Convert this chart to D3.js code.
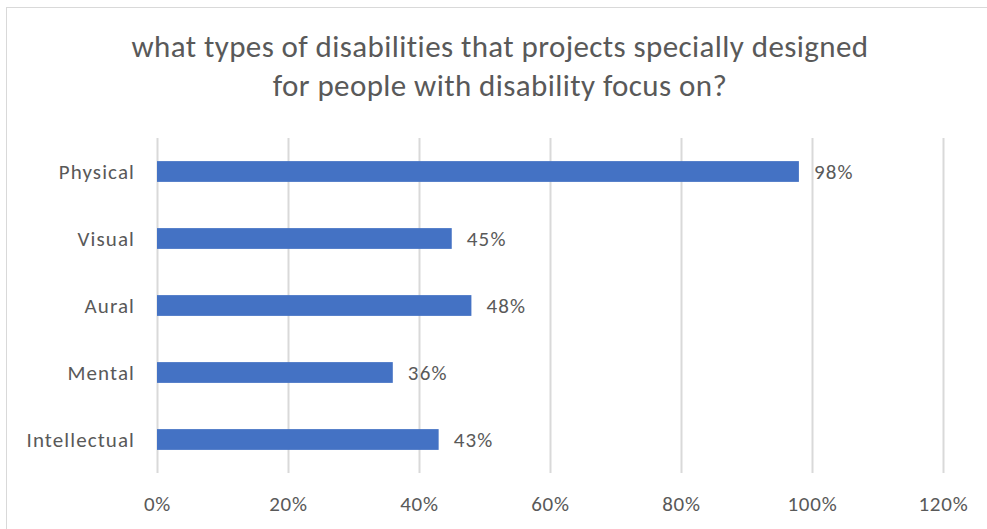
<!DOCTYPE html>
<html>
<head>
<meta charset="utf-8">
<script src="https://cdn.jsdelivr.net/npm/d3@7"></script>
<style>
  html, body { margin: 0; padding: 0; background: #fff; }
  svg { display: block; }
  text { font-family: Carlito, Lato, "Open Sans", sans-serif; fill: #595959; }
</style>
</head>
<body>
<svg id="chart" width="987" height="529"></svg>
<script>
// Survey result: share of projects focusing on each disability type
const categories = ["Physical", "Visual", "Aural", "Mental", "Intellectual"];
const values = [98, 45, 48, 36, 43];
const tickValues = [0, 20, 40, 60, 80, 100, 120];
const titleLines = [
  "what types of disabilities that projects specially designed",
  "for people with disability focus on?"
];

const width = 987, height = 529;
const plot = { left: 157, right: 943, top: 138, bottom: 473 };
const labelFont = "Carlito, Lato, 'Open Sans', sans-serif";

const svg = d3.select("#chart");

// chart area frame
svg.append("rect")
  .attr("x", 6.5).attr("y", 7.5)
  .attr("width", width + 10).attr("height", height + 10)
  .attr("fill", "#fff")
  .attr("stroke", "#d9d9d9").attr("stroke-width", 1);

const x = d3.scaleLinear().domain([0, 120]).range([plot.left, plot.right]);
const y = d3.scaleBand().domain(categories).range([plot.top, plot.bottom]).paddingInner(0.69).paddingOuter(0.345);

// vertical gridlines
svg.append("g")
  .selectAll("line")
  .data(tickValues)
  .join("line")
  .attr("x1", d => Math.round(x(d)) + 0.5)
  .attr("x2", d => Math.round(x(d)) + 0.5)
  .attr("y1", plot.top).attr("y2", plot.bottom)
  .attr("stroke", "#d9d9d9").attr("stroke-width", 2);

// x axis tick labels
const xAxis = d3.axisBottom(x).tickValues(tickValues).tickFormat(d => d + "%").tickSize(0).tickPadding(0);
const gx = svg.append("g").attr("transform", `translate(0, ${plot.bottom + 31})`).call(xAxis);
gx.select(".domain").remove();
gx.selectAll("text").attr("font-size", 21).attr("dy", "0.35em").attr("fill", "#595959")
  .attr("letter-spacing", 0.8).style("font-family", labelFont);

// category labels
const yAxis = d3.axisLeft(y).tickSize(0).tickPadding(0);
const gy = svg.append("g").attr("transform", `translate(${plot.left - 22}, 0)`).call(yAxis);
gy.select(".domain").remove();
gy.selectAll("text").attr("font-size", 21).attr("dy", "0.38em").attr("fill", "#595959")
  .attr("letter-spacing", 1.1).style("font-family", labelFont);

const rows = categories.map((c, i) => ({ cat: c, val: values[i] }));

// bars
svg.append("g")
  .selectAll("rect")
  .data(rows)
  .join("rect")
  .attr("x", x(0))
  .attr("y", d => y(d.cat))
  .attr("width", d => x(d.val) - x(0))
  .attr("height", y.bandwidth())
  .attr("fill", "#4472c4");

// value labels
svg.append("g")
  .selectAll("text")
  .data(rows)
  .join("text")
  .attr("x", d => x(d.val) + 15)
  .attr("y", d => y(d.cat) + y.bandwidth() / 2)
  .attr("dy", "0.38em")
  .attr("font-size", 21)
  .attr("letter-spacing", 1.2)
  .text(d => d.val + "%");

// title
svg.append("text")
  .attr("x", 500).attr("y", 57)
  .attr("text-anchor", "middle")
  .attr("font-size", 31)
  .attr("letter-spacing", 0.4)
  .selectAll("tspan")
  .data(titleLines)
  .join("tspan")
  .attr("x", 500)
  .attr("dy", (d, i) => i === 0 ? 0 : 39)
  .text(d => d);
</script>
</body>
</html>
